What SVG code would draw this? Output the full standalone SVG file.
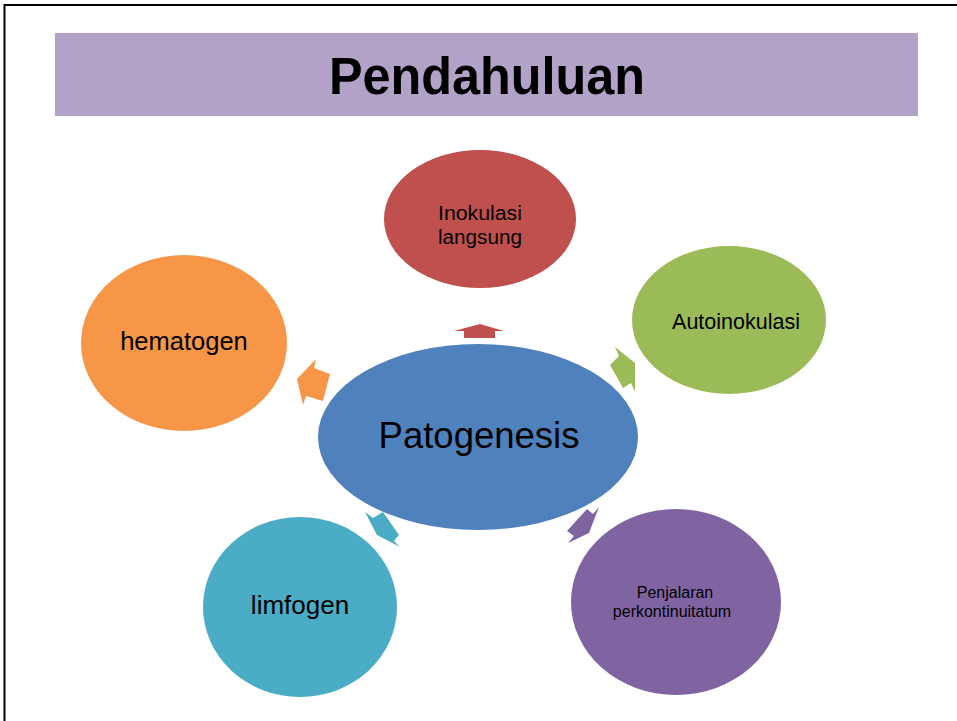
<svg xmlns="http://www.w3.org/2000/svg" width="957" height="721" viewBox="0 0 957 721">
<style>
text{font-family:"Liberation Sans",Arial,sans-serif;fill:#000;text-anchor:middle}
.t{font-size:51px;font-weight:bold}
</style>
<rect x="0" y="0" width="957" height="721" fill="#fff"/>
<path d="M4.5,721 V5 H957" fill="none" stroke="#000" stroke-width="2"/>
<g id="title">
<rect x="55" y="33" width="863" height="83" fill="#B3A2C7"/>
<text class="t" x="487" y="94" textLength="316" lengthAdjust="spacingAndGlyphs">Pendahuluan</text>
</g>
<g id="connectors">
<polygon fill="#C0504D" points="480,324 504,331 495,331 495,338 464,338 464,331 454,331"/>
<polygon fill="#9BBB59" points="635,363 635,392 631,383 623,388 610,365 619,356 615,347"/>
<polygon fill="#F79646" points="297,379 316,359 314,368 330,374 323,401 306,396 303,405"/>
<polygon fill="#4BACC6" points="377,535 365,512 373,518 383,512 399,535 394,541 400,547"/>
<polygon fill="#8064A2" points="589,533 599,507 593,514 587,509 567,531 574,536 568,543"/>
</g>
<g id="center">
<ellipse cx="478" cy="437" rx="160" ry="93" fill="#4F81BD"/>
<text x="479" y="448" font-size="36.5">Patogenesis</text>
</g>
<g id="inokulasi">
<ellipse cx="480" cy="219" rx="96" ry="69" fill="#C0504D"/>
<text x="480" y="220" font-size="19.5" textLength="84" lengthAdjust="spacingAndGlyphs">Inokulasi</text>
<text x="480" y="244" font-size="19.5" textLength="84" lengthAdjust="spacingAndGlyphs">langsung</text>
</g>
<g id="autoinokulasi">
<ellipse cx="729" cy="320" rx="97" ry="74" fill="#9BBB59"/>
<text x="736" y="329" font-size="21.5">Autoinokulasi</text>
</g>
<g id="penjalaran">
<ellipse cx="676" cy="602" rx="105" ry="93" fill="#8064A2"/>
<text x="675" y="598" font-size="16">Penjalaran</text>
<text x="672" y="617" font-size="16">perkontinuitatum</text>
</g>
<g id="limfogen">
<ellipse cx="300" cy="607" rx="97" ry="90" fill="#4BACC6"/>
<text x="300" y="614" font-size="26">limfogen</text>
</g>
<g id="hematogen">
<ellipse cx="184" cy="343" rx="103" ry="88" fill="#F79646"/>
<text x="184" y="350" font-size="25.5">hematogen</text>
</g>
</svg>
